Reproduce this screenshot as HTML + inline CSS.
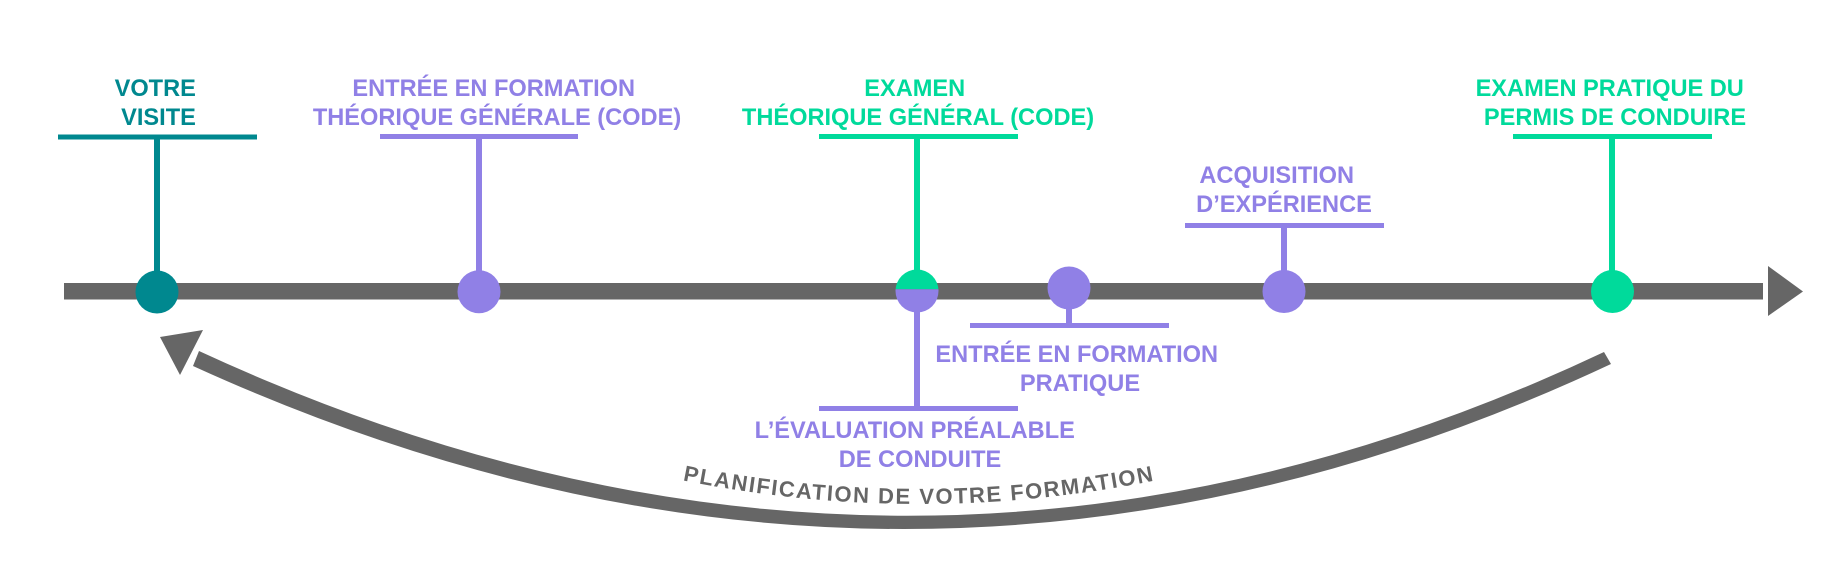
<!DOCTYPE html>
<html>
<head>
<meta charset="utf-8">
<style>
  html, body { margin: 0; padding: 0; background: #ffffff; }
  svg { display: block; }
  text { font-family: "Liberation Sans", Arial, sans-serif; font-weight: bold; }
</style>
</head>
<body>
<svg width="1836" height="566" viewBox="0 0 1836 566" xmlns="http://www.w3.org/2000/svg">
  <rect x="0" y="0" width="1836" height="566" fill="#ffffff"/>

  <!-- Main timeline bar -->
  <rect x="64" y="283" width="1699" height="16.5" fill="#666666"/>
  <polygon points="1768,266 1768,316 1803,291.5" fill="#666666"/>

  <!-- Return arc -->
  <path d="M 199,351 Q 910,680 1604,352 L 1611,364 Q 910,693 193,366 Z" fill="#666666"/>
  <polygon points="160,337 203,330 180,375" fill="#666666"/>

  <!-- Arc label -->
  <defs>
    <path id="txtpath" d="M 600,461 Q 919,547 1238,461"/>
    <clipPath id="topHalf"><rect x="880" y="250" width="80" height="39.3"/></clipPath>
    <clipPath id="botHalf"><rect x="880" y="289.3" width="80" height="40"/></clipPath>
  </defs>
  <text font-size="22" fill="#666666" letter-spacing="1.6" text-anchor="middle">
    <textPath href="#txtpath" startOffset="50%">PLANIFICATION DE VOTRE FORMATION</textPath>
  </text>

  <!-- VOTRE VISITE (teal) -->
  <rect x="58" y="134.5" width="199" height="5" fill="#00888F"/>
  <rect x="154" y="137" width="6" height="150" fill="#00888F"/>
  <circle cx="157" cy="292" r="21.5" fill="#00888F"/>
  <text font-size="23.6" fill="#00888F" text-anchor="middle">
    <tspan x="158.5" y="96">VOTRE</tspan>
    <tspan x="158.5" y="125">VISITE</tspan>
  </text>

  <!-- Entrée en formation théorique (purple) -->
  <rect x="380" y="134" width="198" height="5" fill="#9080E6"/>
  <rect x="476" y="137" width="6" height="150" fill="#9080E6"/>
  <circle cx="479" cy="291.7" r="21.5" fill="#9080E6"/>
  <text font-size="23.6" fill="#9080E6" text-anchor="middle">
    <tspan x="497" y="96">ENTRÉE EN FORMATION</tspan>
    <tspan x="497" y="125">THÉORIQUE GÉNÉRALE (CODE)</tspan>
  </text>

  <!-- Examen théorique (green) -->
  <rect x="819" y="134" width="199" height="5" fill="#00DA9B"/>
  <rect x="914" y="137" width="6" height="150" fill="#00DA9B"/>
  <text font-size="23.6" fill="#00DA9B" text-anchor="middle">
    <tspan x="918" y="96">EXAMEN</tspan>
    <tspan x="918" y="125">THÉORIQUE GÉNÉRAL (CODE)</tspan>
  </text>

  <!-- Évaluation préalable (purple, below) -->
  <rect x="914" y="295" width="6" height="113" fill="#9080E6"/>
  <rect x="819" y="406" width="199" height="5" fill="#9080E6"/>
  <text font-size="23.6" fill="#9080E6" text-anchor="middle">
    <tspan x="918" y="438">L’ÉVALUATION PRÉALABLE</tspan>
    <tspan x="920" y="467">DE CONDUITE</tspan>
  </text>

  <!-- Split circle -->
  <circle cx="917" cy="291" r="21.5" fill="#00DA9B" clip-path="url(#topHalf)"/>
  <circle cx="917" cy="291" r="21.5" fill="#9080E6" clip-path="url(#botHalf)"/>

  <!-- Entrée en formation pratique (purple, below) -->
  <rect x="1066" y="290" width="6" height="35" fill="#9080E6"/>
  <rect x="970" y="323" width="199" height="5" fill="#9080E6"/>
  <circle cx="1069" cy="288" r="21.5" fill="#9080E6"/>
  <text font-size="23.6" fill="#9080E6" text-anchor="middle">
    <tspan x="1080" y="362">ENTRÉE EN FORMATION</tspan>
    <tspan x="1080" y="391">PRATIQUE</tspan>
  </text>

  <!-- Acquisition d'expérience (purple) -->
  <rect x="1185" y="223" width="199" height="5" fill="#9080E6"/>
  <rect x="1281" y="226" width="6" height="60" fill="#9080E6"/>
  <circle cx="1284" cy="291.5" r="21.5" fill="#9080E6"/>
  <text font-size="23.6" fill="#9080E6" text-anchor="middle">
    <tspan x="1280" y="183">ACQUISITION</tspan>
    <tspan x="1284" y="212">D’EXPÉRIENCE</tspan>
  </text>

  <!-- Examen pratique (green) -->
  <rect x="1513" y="134" width="199" height="5" fill="#00DA9B"/>
  <rect x="1609" y="137" width="6" height="150" fill="#00DA9B"/>
  <circle cx="1612.5" cy="291.5" r="21.5" fill="#00DA9B"/>
  <text font-size="23.6" fill="#00DA9B" text-anchor="middle">
    <tspan x="1613" y="96">EXAMEN PRATIQUE DU</tspan>
    <tspan x="1615" y="125">PERMIS DE CONDUIRE</tspan>
  </text>
</svg>
</body>
</html>
